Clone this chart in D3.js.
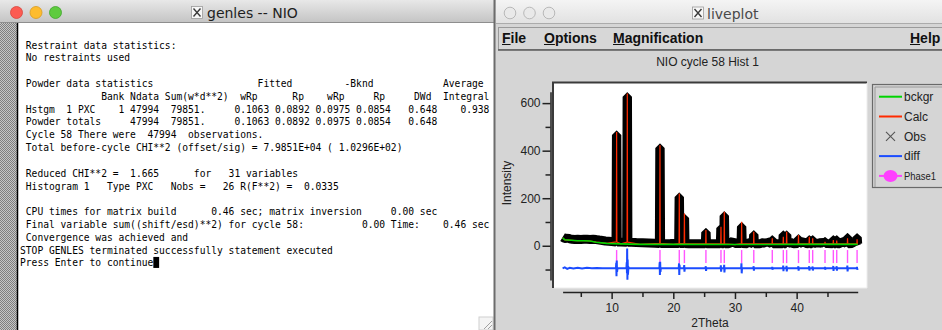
<!DOCTYPE html>
<html>
<head>
<meta charset="utf-8">
<script src="https://cdn.jsdelivr.net/npm/d3@7"></script>
<style>
  html, body { margin: 0; padding: 0; background: #d5d5d5; overflow: hidden; }
  svg { display: block; }
</style>
</head>
<body>
<svg id="screen" width="942" height="330"></svg>
<script>
// ---------------------------------------------------------------
// GSAS refinement of NIO, cycle 58, histogram 1
// ---------------------------------------------------------------

// Bragg reflection positions (2Theta) of the phase
const reflections = [10.81, 12.54, 17.84, 20.97, 21.80, 25.29, 27.73, 28.27, 31.08, 33.05,
                     36.05, 37.84, 38.38, 40.30, 42.05, 42.60, 44.60, 45.95, 46.50, 48.25, 49.80];
// observed and calculated peak maxima at each reflection
const obsPeak  = [466, 627, 411, 205, 116, 56, 74, 126, 81, 46, 25, 45, 45, 29, 25, 25, 18, 25, 25, 35, 34];
const calcPeak = [478, 640, 423, 220, 136, 66, 80, 143, 101, 59, 31, 38, 59, 45, 38, 31, 17, 24, 22, 31, 27];
// local intensity level under each reflection
const peakBase = [16, 15, 10, 9, 9, 8, 8, 8, 9, 8, 8, 8, 8, 9, 8, 8, 9, 8, 8, 8, 8];

// observed intensity between the reflections [2Theta, I]
const obsBetween = [
  [2.05, 36], [2.3, 32], [2.6, 30], [2.9, 33], [3.2, 29], [3.6, 27], [4.0, 26], [4.5, 27],
  [5.0, 26], [5.5, 27], [6.0, 27], [6.5, 26], [7.0, 27], [7.5, 26], [8.0, 24], [8.5, 22],
  [9.0, 20], [9.5, 19], [10.0, 18], [10.4, 17], [11.5, 16], [13.2, 15], [14.0, 14], [15.0, 13],
  [16.0, 12], [17.0, 11], [18.6, 10], [19.5, 9], [20.3, 9], [22.5, 8], [23.5, 8], [24.5, 8],
  [26.0, 8], [27.0, 8], [29.0, 8], [29.7, 20], [30.0, 9], [32.0, 8], [32.2, 16], [34.0, 8],
  [34.6, 14], [35.0, 9], [35.2, 18], [37.0, 8], [39.0, 15], [39.5, 8], [41.2, 18], [41.5, 9],
  [43.3, 14], [43.5, 8], [44.0, 16], [45.0, 9], [47.0, 8], [47.3, 17], [47.8, 14], [49.0, 9], [49.3, 18]
];

// refined background [2Theta, I]
const background = [
  [2.05, 33], [2.4, 25], [3.5, 23], [4.4, 21], [5.5, 21], [6.5, 20], [7.5, 15], [9.2, 10],
  [11.5, 8], [14.6, 6], [20, 6], [30, 5], [40, 6], [49.9, 6]
];

// difference curve (obs - calc), drawn with its offset [2Theta, I]
const difference = [
  [2.05, -95], [2.4, -91], [2.8, -97], [3.2, -93], [3.8, -96], [4.5, -93], [5.2, -96], [6.0, -93],
  [6.8, -95], [7.6, -94], [8.5, -95], [10.70, -95],
  [10.75, -72], [10.79, -128], [10.83, -62], [10.88, -110], [10.95, -95],
  [12.40, -95], [12.45, -70], [12.49, -115], [12.52, -12], [12.56, -143], [12.60, -58], [12.65, -122], [12.72, -88], [12.80, -95],
  [17.74, -95], [17.79, -70], [17.83, -123], [17.87, -67], [17.92, -110], [17.98, -95],
  [20.88, -95], [20.93, -74], [20.97, -123], [21.01, -80], [21.06, -95],
  [21.72, -95], [21.77, -81], [21.81, -109], [21.86, -95],
  [25.22, -95], [25.27, -86], [25.31, -106], [25.36, -95],
  [27.66, -95], [27.71, -82], [27.75, -109], [27.80, -95], [28.20, -95], [28.25, -80], [28.29, -112], [28.34, -95],
  [31.00, -95], [31.05, -74], [31.09, -116], [31.14, -95],
  [32.98, -95], [33.03, -86], [33.07, -105], [33.12, -95],
  [36.00, -95], [36.04, -89], [36.08, -101], [36.12, -95],
  [37.78, -95], [37.82, -83], [37.86, -107], [37.90, -95], [38.32, -95], [38.36, -84], [38.40, -108], [38.45, -95],
  [40.24, -95], [40.28, -86], [40.32, -105], [40.37, -95],
  [41.99, -95], [42.03, -86], [42.07, -104], [42.12, -95], [42.55, -95], [42.59, -87], [42.63, -104], [42.68, -95],
  [44.55, -95], [44.59, -89], [44.63, -101], [44.67, -95],
  [45.90, -95], [45.94, -85], [45.98, -106], [46.02, -95], [46.45, -95], [46.49, -86], [46.53, -105], [46.57, -95],
  [48.18, -95], [48.22, -83], [48.26, -108], [48.31, -95],
  [49.74, -95], [49.78, -89], [49.82, -101], [49.90, -95]
];

// axis ticks
const xTickLabels = [10, 20, 30, 40];
const xMinorTicks = [5, 15, 25, 35, 45];
const yTickLabels = [0, 200, 400, 600];
const yMinorTicks = [-100, 100, 300, 500];

const legendNames = ["bckgr", "Calc", "Obs", "diff", "Phase1"];
const menuNames = ["File", "Options", "Magnification", "Help"];

// build a fixed-column console line from [column, text] pairs
function cols(pairs) {
  let s = "";
  for (const [c, t] of pairs) { while (s.length < c) s += " "; s += t; }
  return s;
}

const consoleLines = [
  " Restraint data statistics:",
  " No restraints used",
  "",
  cols([[1, "Powder data statistics"], [41, "Fitted"], [56, "-Bknd"], [73, "Average"]]),
  cols([[14, "Bank"], [19, "Ndata"], [25, "Sum(w*d**2)"], [38, "wRp"], [47, "Rp"], [53, "wRp"], [61, "Rp"], [68, "DWd"], [73, "Integral"]]),
  cols([[1, "Hstgm"], [8, "1"], [10, "PXC"], [17, "1"], [19, "47994"], [26, "79851."], [37, "0.1063"], [44, "0.0892"], [51, "0.0975"], [58, "0.0854"], [67, "0.648"], [76, "0.938"]]),
  cols([[1, "Powder totals"], [19, "47994"], [26, "79851."], [37, "0.1063"], [44, "0.0892"], [51, "0.0975"], [58, "0.0854"], [67, "0.648"]]),
  cols([[1, "Cycle"], [7, "58"], [10, "There"], [16, "were"], [22, "47994"], [29, "observations."]]),
  " Total before-cycle CHI**2 (offset/sig) = 7.9851E+04 ( 1.0296E+02)",
  "",
  cols([[1, "Reduced CHI**2 ="], [19, "1.665"], [30, "for"], [36, "31"], [39, "variables"]]),
  cols([[1, "Histogram"], [11, "1"], [15, "Type"], [20, "PXC"], [26, "Nobs"], [31, "="], [35, "26"], [38, "R(F**2)"], [46, "="], [49, "0.0335"]]),
  "",
  cols([[1, "CPU times for matrix build"], [33, "0.46 sec; matrix inversion"], [64, "0.00 sec"]]),
  cols([[1, "Final variable sum((shift/esd)**2) for cycle"], [46, "58:"], [59, "0.00 Time:"], [73, "0.46 sec"]]),
  " Convergence was achieved and",
  "STOP GENLES terminated successfully statement executed",
  "Press Enter to continue"
];

// ---------------------------------------------------------------
const svg = d3.select("#screen");
const defs = svg.append("defs");

function vGrad(id, top, bottom) {
  const g = defs.append("linearGradient").attr("id", id)
    .attr("x1", 0).attr("y1", 0).attr("x2", 0).attr("y2", 1);
  g.append("stop").attr("offset", "0%").attr("stop-color", top);
  g.append("stop").attr("offset", "100%").attr("stop-color", bottom);
}
vGrad("titleActive", "#e8e8e8", "#c3c3c3");
vGrad("titleInactive", "#f4f4f4", "#e1e1e1");

const pat = defs.append("pattern").attr("id", "stipple")
  .attr("width", 2).attr("height", 2).attr("patternUnits", "userSpaceOnUse");
pat.append("rect").attr("width", 2).attr("height", 2).attr("fill", "#c6c6c6");
pat.append("rect").attr("width", 1).attr("height", 1).attr("fill", "#7f7f7f");
pat.append("rect").attr("x", 1).attr("y", 1).attr("width", 1).attr("height", 1).attr("fill", "#7f7f7f");

// X11 application icon shown in the title bars
function xIcon(g, x0, y0) {
  g.append("rect").attr("x", x0).attr("y", y0).attr("width", 11).attr("height", 12)
    .attr("fill", "#f7f7f7").attr("stroke", "#9c9c9c").attr("stroke-width", 0.8);
  g.append("path").attr("d", `M${x0 + 2},${y0 + 2}L${x0 + 9},${y0 + 10}M${x0 + 9},${y0 + 2}L${x0 + 2},${y0 + 10}`)
    .attr("stroke", "#3a3a3a").attr("stroke-width", 1.4);
}

// ====================== console window ======================
const term = svg.append("g");
term.append("rect").attr("x", 0).attr("y", 0).attr("width", 495).attr("height", 330).attr("fill", "#ffffff");
term.append("rect").attr("x", 0).attr("y", 0).attr("width", 495).attr("height", 23).attr("fill", "url(#titleActive)");
term.append("line").attr("x1", 0).attr("x2", 495).attr("y1", 22.5).attr("y2", 22.5).attr("stroke", "#8e8e8e");

[["#fc5b52", "#d8423b", 16.5], ["#fdbc2e", "#d89a1e", 36], ["#5ecb3f", "#3ea52a", 55.5]].forEach(([f, s, cx]) => {
  term.append("circle").attr("cx", cx).attr("cy", 12.5).attr("r", 6).attr("fill", f).attr("stroke", s).attr("stroke-width", 0.8);
});
xIcon(term, 191.5, 6.5);
term.append("text").attr("x", 207).attr("y", 18.3)
  .attr("font-family", "DejaVu Sans, sans-serif").attr("font-size", 14).attr("fill", "#1e1e1e")
  .text("genles -- NIO");

term.append("rect").attr("x", 0).attr("y", 23).attr("width", 17).attr("height", 307).attr("fill", "url(#stipple)");
term.append("line").attr("x1", 17.5).attr("x2", 17.5).attr("y1", 23).attr("y2", 330).attr("stroke", "#000").attr("stroke-width", 1.5);

const charW = 9.63 * 0.602;
term.selectAll("text.line").data(consoleLines).join("text")
  .attr("class", "line")
  .attr("x", 20)
  .attr("y", (d, i) => 48.5 + 12.82 * i)
  .attr("font-family", "DejaVu Sans Mono, monospace")
  .attr("font-size", 9.63)
  .attr("fill", "#000")
  .style("white-space", "pre")
  .text(d => d);

// cursor block after the prompt
const lastLine = consoleLines[consoleLines.length - 1];
term.append("rect").attr("x", 20 + lastLine.length * charW).attr("y", 45 + 12.82 * (consoleLines.length - 1) - 6)
  .attr("width", charW).attr("height", 11).attr("fill", "#000");

// resize grip
term.append("rect").attr("x", 479).attr("y", 317).attr("width", 14).attr("height", 13)
  .attr("fill", "#f4f4f4").attr("stroke", "#cfcfcf");
term.append("path").attr("d", "M484,329L492,321M488,329L492,325").attr("stroke", "#a0a0a0").attr("stroke-width", 1);

term.append("line").attr("x1", 494.5).attr("x2", 494.5).attr("y1", 0).attr("y2", 330).attr("stroke", "#6c6c6c").attr("stroke-width", 2);

// ====================== liveplot window ======================
const live = svg.append("g");
live.append("rect").attr("x", 496).attr("y", 0).attr("width", 446).attr("height", 330).attr("fill", "#d5d5d5");
live.append("rect").attr("x", 496).attr("y", 0).attr("width", 446).attr("height", 24).attr("fill", "url(#titleInactive)");
live.append("line").attr("x1", 496).attr("x2", 942).attr("y1", 23.5).attr("y2", 23.5).attr("stroke", "#ababab");
[510, 529.5, 549].forEach(cx => {
  live.append("circle").attr("cx", cx).attr("cy", 13).attr("r", 5.8)
    .attr("fill", "#e9e9e9").attr("stroke", "#b2b2b2").attr("stroke-width", 0.9);
});
xIcon(live, 692.5, 7);
live.append("text").attr("x", 707).attr("y", 18.5)
  .attr("font-family", "DejaVu Sans, sans-serif").attr("font-size", 14).attr("fill", "#4a4a4a")
  .text("liveplot");

// menu bar
live.append("rect").attr("x", 498.5).attr("y", 27.5).attr("width", 450).attr("height", 22)
  .attr("fill", "#d7d7d7").attr("stroke", "#9a9a9a");
live.append("line").attr("x1", 498).attr("x2", 942).attr("y1", 50).attr("y2", 50).attr("stroke", "#5a5a5a").attr("stroke-width", 1.5);
const menuX = [502, 544, 613, 910];
menuNames.forEach((name, i) => {
  const t = live.append("text").attr("x", menuX[i]).attr("y", 42.5)
    .attr("font-family", "Liberation Sans, Arial, sans-serif").attr("font-size", 14)
    .attr("font-weight", "bold").attr("fill", "#111").text(name);
  const w = t.node().getSubStringLength(0, 1);
  live.append("line").attr("x1", menuX[i]).attr("x2", menuX[i] + w)
    .attr("y1", 44.5).attr("y2", 44.5).attr("stroke", "#111").attr("stroke-width", 1);
});

// plot title
live.append("text").attr("x", 707.5).attr("y", 66.3).attr("text-anchor", "middle")
  .attr("font-family", "Liberation Sans, Arial, sans-serif").attr("font-size", 12).attr("fill", "#222")
  .text("NIO cycle 58 Hist 1");

// plotting surface (sunken frame)
live.append("rect").attr("x", 553).attr("y", 82).attr("width", 314).attr("height", 206).attr("fill", "#ffffff");
live.append("path").attr("d", "M553,288V82.5H867").attr("fill", "none").attr("stroke", "#3b3b3b").attr("stroke-width", 2);
live.append("path").attr("d", "M867,83V288H554").attr("fill", "none").attr("stroke", "#ededed").attr("stroke-width", 1);

const x = d3.scaleLinear().domain([2.05, 49.9]).range([562.6, 857.7]);
const y = d3.scaleLinear().domain([-144, 648]).range([280, 91.7]);

// observed profile: points between reflections plus each reflection's profile
const obsPts = obsBetween.slice();
reflections.forEach((p, i) => {
  obsPts.push([p - 0.1, peakBase[i]], [p - 0.03, obsPeak[i]], [p + 0.03, obsPeak[i]], [p + 0.1, peakBase[i]]);
});
obsPts.sort((a, b) => a[0] - b[0]);

// calculated profile: background plus each reflection
const calcPts = background.slice();
reflections.forEach((p, i) => {
  calcPts.push([p - 0.04, peakBase[i]], [p, calcPeak[i]], [p + 0.04, peakBase[i]]);
});
calcPts.sort((a, b) => a[0] - b[0]);

const line = d3.line().x(d => x(d[0])).y(d => y(d[1]));

const plot = live.append("g");
plot.append("path").datum(obsPts).attr("d", line)
  .attr("fill", "none").attr("stroke", "#000").attr("stroke-width", 9)
  .attr("stroke-linejoin", "bevel");
plot.append("path").datum(calcPts).attr("d", line)
  .attr("fill", "none").attr("stroke", "#ff2a00").attr("stroke-width", 1.2)
  .attr("stroke-linejoin", "bevel");
plot.append("path").datum(background).attr("d", line)
  .attr("fill", "none").attr("stroke", "#00d400").attr("stroke-width", 1.6);

// reflection markers
plot.selectAll("line.refl").data(reflections).join("line")
  .attr("class", "refl")
  .attr("x1", d => x(d)).attr("x2", d => x(d))
  .attr("y1", y(-18)).attr("y2", y(-73))
  .attr("stroke", "#ff55ff").attr("stroke-width", 1.4);

plot.append("path").datum(difference).attr("d", line)
  .attr("fill", "none").attr("stroke", "#1b4cff").attr("stroke-width", 2);

// axes
function styleAxis(g) {
  g.selectAll("path.domain").attr("stroke", "#222").attr("stroke-width", 1.5);
  g.selectAll(".tick line").attr("stroke", "#222").attr("stroke-width", 1.5);
  g.selectAll(".tick text").attr("font-family", "Liberation Sans, Arial, sans-serif")
    .attr("font-size", 12).attr("fill", "#222");
}
const gy = live.append("g").attr("transform", "translate(550.5,0)")
  .call(d3.axisLeft(y).tickValues(yTickLabels).tickSize(8).tickSizeOuter(0).tickPadding(2));
styleAxis(gy);
const gyMinor = live.append("g").attr("transform", "translate(550.5,0)")
  .call(d3.axisLeft(y).tickValues(yMinorTicks).tickSize(5).tickFormat(""));
gyMinor.select("path.domain").remove();
styleAxis(gyMinor);

const gx = live.append("g").attr("transform", "translate(0,292)")
  .call(d3.axisBottom(x).tickValues(xTickLabels).tickSize(7).tickSizeOuter(0).tickPadding(4));
styleAxis(gx);
const gxMinor = live.append("g").attr("transform", "translate(0,292)")
  .call(d3.axisBottom(x).tickValues(xMinorTicks).tickSize(5).tickFormat(""));
gxMinor.select("path.domain").remove();
styleAxis(gxMinor);

live.append("text").attr("transform", "translate(507,183) rotate(-90)")
  .attr("text-anchor", "middle").attr("dy", "0.35em")
  .attr("font-family", "Liberation Sans, Arial, sans-serif").attr("font-size", 12).attr("fill", "#222")
  .text("Intensity");
live.append("text").attr("x", 710).attr("y", 326.5).attr("text-anchor", "middle")
  .attr("font-family", "Liberation Sans, Arial, sans-serif").attr("font-size", 12).attr("fill", "#222")
  .text("2Theta");

// legend
const leg = live.append("g");
leg.append("rect").attr("x", 872.5).attr("y", 84.5).attr("width", 80).attr("height", 103)
  .attr("fill", "#d5d5d5").attr("stroke", "#6a6a6a").attr("stroke-width", 1.2);
leg.append("path").attr("d", "M875,187V87H942").attr("fill", "none").attr("stroke", "#9a9a9a").attr("stroke-width", 1);
const legColors = ["#00d400", "#ff2a00", null, "#1b4cff", "#ff40ff"];
legendNames.forEach((name, i) => {
  const cy = 96.7 + 19.8 * i;
  if (legColors[i]) {
    leg.append("line").attr("x1", 879).attr("x2", 902).attr("y1", cy).attr("y2", cy)
      .attr("stroke", legColors[i]).attr("stroke-width", 2);
  } else {
    leg.append("path").attr("d", `M886,${cy - 4.5}L895,${cy + 4.5}M895,${cy - 4.5}L886,${cy + 4.5}`)
      .attr("stroke", "#555").attr("stroke-width", 1.1);
  }
  if (i === 4) {
    leg.append("ellipse").attr("cx", 890.5).attr("cy", cy).attr("rx", 7).attr("ry", 6)
      .attr("fill", "#ff40ff");
  }
  const t = leg.append("text").attr("x", 904).attr("y", cy + 4.3)
    .attr("font-family", "Liberation Sans, Arial, sans-serif").attr("font-size", 12).attr("fill", "#222")
    .text(name);
  // keep the last entry inside the window edge
  if (t.node().getComputedTextLength() > 32) {
    t.attr("font-size", 11).attr("textLength", 32).attr("lengthAdjust", "spacingAndGlyphs");
  }
});
</script>
</body>
</html>
